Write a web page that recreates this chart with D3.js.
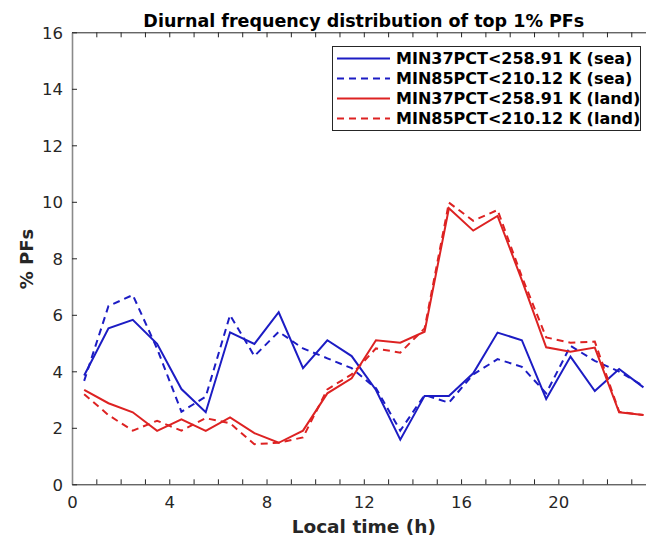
<!DOCTYPE html>
<html>
<head>
<meta charset="utf-8">
<script src="https://cdn.jsdelivr.net/npm/d3@7"></script>
<style>
  html, body { margin: 0; padding: 0; background: #fff; }
  svg { display: block; font-family: "DejaVu Sans", sans-serif; }
</style>
</head>
<body>
<svg id="chart" width="646" height="538"></svg>
<script>
const hours = [0.5,1.5,2.5,3.5,4.5,5.5,6.5,7.5,8.5,9.5,10.5,11.5,12.5,13.5,14.5,15.5,16.5,17.5,18.5,19.5,20.5,21.5,22.5,23.5];
const sea37  = [3.85,5.52,5.82,4.97,3.37,2.55,5.38,4.97,6.09,4.11,5.10,4.54,3.34,1.58,3.13,3.13,3.93,5.37,5.10,3.02,4.52,3.30,4.08,3.43];
const sea85  = [3.66,6.31,6.70,4.80,2.57,3.10,5.99,4.54,5.40,4.81,4.46,4.11,3.40,1.90,3.16,2.89,3.89,4.43,4.16,3.22,4.90,4.37,3.99,3.48];
const land37 = [3.34,2.87,2.55,1.89,2.30,1.89,2.37,1.81,1.47,1.90,3.22,3.75,5.10,5.01,5.40,9.77,8.98,9.50,7.23,4.85,4.69,4.84,2.55,2.45];
const land85 = [3.19,2.45,1.90,2.25,1.90,2.34,2.16,1.42,1.47,1.66,3.36,3.89,4.81,4.66,5.52,9.97,9.33,9.71,7.35,5.20,5.01,5.05,2.57,2.45];
const seriesNames = ["MIN37PCT<258.91 K (sea)","MIN85PCT<210.12 K (sea)","MIN37PCT<258.91 K (land)","MIN85PCT<210.12 K (land)"];
const xTickLabels = [0,4,8,12,16,20];
const yTickLabels = [0,2,4,6,8,10,12,14,16];

const BLUE = "#1c1cc4", RED = "#dd2222";
const series = [
  {name: seriesNames[0], values: sea37,  color: BLUE, dash: null},
  {name: seriesNames[1], values: sea85,  color: BLUE, dash: "7,5"},
  {name: seriesNames[2], values: land37, color: RED,  dash: null},
  {name: seriesNames[3], values: land85, color: RED,  dash: "7,5"}
];

const svg = d3.select("#chart");
const L = 72, R = 655.6, T = 32.3, B = 484.3;
const x = d3.scaleLinear().domain([0,24]).range([L,R]);
const y = d3.scaleLinear().domain([0,16]).range([B,T]);
const axisCol = "#262626";

// lines
const line = d3.line().x((d,i)=>x(hours[i])).y(d=>y(d));
series.forEach(s => {
  svg.append("path").datum(s.values)
    .attr("d", line).attr("fill","none")
    .attr("stroke", s.color).attr("stroke-width", 2)
    .attr("stroke-linejoin","miter")
    .attr("stroke-dasharray", s.dash);
});

// axes
const hourTicks = d3.range(0,25,1);
const xb = svg.append("g").attr("transform",`translate(0,${B})`)
  .call(d3.axisBottom(x).tickValues(hourTicks).tickSizeInner(-5).tickSizeOuter(0)
        .tickFormat(d => xTickLabels.includes(d) ? d : ""));
xb.select(".domain").attr("stroke", axisCol);
xb.selectAll(".tick line").attr("stroke", axisCol);
xb.selectAll(".tick text").attr("y", 0).attr("dy", null)
  .attr("transform","translate(0,24)")
  .attr("font-size", 16.5).attr("fill", axisCol).attr("font-family","DejaVu Sans");

const xt = svg.append("g").attr("transform",`translate(0,${T})`)
  .call(d3.axisTop(x).tickValues(hourTicks).tickSizeInner(-5).tickSizeOuter(0).tickFormat(""));
xt.select(".domain").attr("stroke", axisCol);
xt.selectAll(".tick line").attr("stroke", axisCol);

const yl = svg.append("g").attr("transform",`translate(${L},0)`)
  .call(d3.axisLeft(y).tickValues(yTickLabels).tickSizeInner(-5).tickSizeOuter(0).tickPadding(9));
yl.select(".domain").attr("stroke", "#8a8a8a").attr("stroke-width", 1.6);
yl.selectAll(".tick line").attr("stroke", axisCol);
yl.selectAll(".tick text").attr("font-size", 16.5).attr("fill", axisCol)
  .attr("font-family","DejaVu Sans").attr("dy","0.36em");

// title and labels
svg.append("text").attr("x", (L+R)/2).attr("y", 26.5).attr("text-anchor","middle")
  .attr("font-weight","bold").attr("font-size", 17.5).attr("fill","#000")
  .text("Diurnal frequency distribution of top 1% PFs");
svg.append("text").attr("x", (L+R)/2).attr("y", 533).attr("text-anchor","middle")
  .attr("font-weight","bold").attr("font-size", 18.5).attr("fill", axisCol)
  .text("Local time (h)");
svg.append("text").attr("transform","translate(33,259) rotate(-90)").attr("text-anchor","middle")
  .attr("font-weight","bold").attr("font-size", 18).attr("fill", axisCol)
  .text("% PFs");

// legend
const lg = svg.append("g");
lg.append("rect").attr("x", 332.5).attr("y", 46.5).attr("width", 308).attr("height", 84)
  .attr("fill","#fff").attr("stroke", axisCol).attr("stroke-width", 1);
series.forEach((s,i) => {
  const cy = 58.5 + i*20;
  lg.append("line").attr("x1", 337).attr("x2", 390).attr("y1", cy).attr("y2", cy)
    .attr("stroke", s.color).attr("stroke-width", 2).attr("stroke-dasharray", s.dash);
  lg.append("text").attr("x", 396).attr("y", cy + 5.8)
    .attr("font-weight","bold").attr("font-size", 16).attr("fill","#000")
    .text(s.name);
});
</script>
</body>
</html>
